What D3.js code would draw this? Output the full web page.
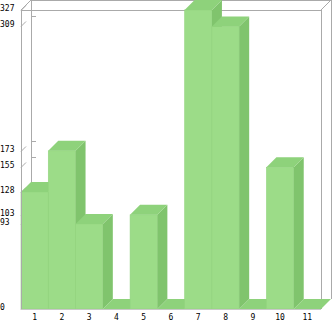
<!DOCTYPE html>
<html><head><meta charset="utf-8">
<script src="https://cdn.jsdelivr.net/npm/d3@7"></script>
<style>html,body{margin:0;padding:0;background:#fff;}svg{display:block;}</style>
</head><body><svg id="c" width="333" height="321"></svg>
<script>
const categories = ["1","2","3","4","5","6","7","8","9","10","11"];
const values = [128, 173, 93, 0, 103, 0, 327, 309, 0, 155, 0];
const tickValues = [0, 93, 103, 128, 155, 173, 309, 327];

const svg = d3.select("#c");
const L = 21, R = 321, T = 10, B = 309, D = 10;
const x = d3.scaleBand().domain(categories).range([L, R]).padding(0);
const y = d3.scaleLinear().domain([0, 327]).range([B, T]);
const frame = "#aaaaaa";

const g = svg.append("g");
// back wall frame
g.append("line").attr("x1", L + D + 0.5).attr("x2", L + D + 0.5).attr("y1", T - D).attr("y2", B - D).attr("stroke", frame);
g.append("line").attr("x1", L + D).attr("x2", R + D).attr("y1", T - D + 0.5).attr("y2", T - D + 0.5).attr("stroke", frame);
g.append("line").attr("x1", R + D + 0.5).attr("x2", R + D + 0.5).attr("y1", T - D).attr("y2", B - D).attr("stroke", frame);
// tick marks on back wall and diagonal ticks
tickValues.forEach(v => {
  const yy = Math.round(y(v)) + 0.5;
  g.append("line").attr("x1", L + D).attr("x2", L + D + 5).attr("y1", yy - D).attr("y2", yy - D).attr("stroke", frame);
  g.append("line").attr("x1", L).attr("x2", L + 5).attr("y1", yy).attr("y2", yy - 5).attr("stroke", frame);
});
// front frame top and right, and corner diagonals
g.append("line").attr("x1", L).attr("x2", R).attr("y1", T + 0.5).attr("y2", T + 0.5).attr("stroke", frame);
g.append("line").attr("x1", R + 0.5).attr("x2", R + 0.5).attr("y1", T).attr("y2", B).attr("stroke", frame);
g.append("line").attr("x1", L).attr("x2", L + D).attr("y1", T).attr("y2", T - D).attr("stroke", frame);
g.append("line").attr("x1", R).attr("x2", R + D).attr("y1", T).attr("y2", T - D).attr("stroke", frame);

// bars
const bars = svg.append("g");
categories.forEach((c, i) => {
  const x0 = x(c), x1 = x(c) + x.bandwidth();
  const yt = y(values[i]), yb = y(0);
  const bg = bars.append("g");
  if (values[i] > 0) {
    bg.append("rect").attr("x", x0).attr("y", yt).attr("width", x1 - x0).attr("height", yb - yt)
      .attr("fill", "#9cdc88").attr("stroke", "#93d47f").attr("stroke-width", 0.6);
    bg.append("path").attr("d", `M${x1},${yt}L${x1 + D},${yt - D}L${x1 + D},${yb - D}L${x1},${yb}Z`)
      .attr("fill", "#80c46d");
  }
  bg.append("path").attr("d", `M${x0},${yt}L${x0 + D},${yt - D}L${x1 + D},${yt - D}L${x1},${yt}Z`)
    .attr("fill", "#8ed27b");
});

// left axis line
svg.append("line").attr("x1", L + 0.5).attr("x2", L + 0.5).attr("y1", T).attr("y2", B).attr("stroke", frame);
// bottom axis line
svg.append("line").attr("x1", L).attr("x2", R).attr("y1", B + 0.5).attr("y2", B + 0.5).attr("stroke", "#c8c8c8");

// tick labels
const font = "'DejaVu Sans Mono', monospace";
svg.append("g").selectAll("text").data(tickValues).join("text")
  .attr("x", 0).attr("y", d => y(d) + 1)
  .attr("font-family", font).attr("font-size", "8px").attr("fill", "#000")
  .text(d => d);
svg.append("g").selectAll("text").data(categories).join("text")
  .attr("x", d => x(d) + x.bandwidth() / 2).attr("y", 320)
  .attr("text-anchor", "middle")
  .attr("font-family", font).attr("font-size", "8px").attr("fill", "#000")
  .text(d => d);
</script></body></html>
